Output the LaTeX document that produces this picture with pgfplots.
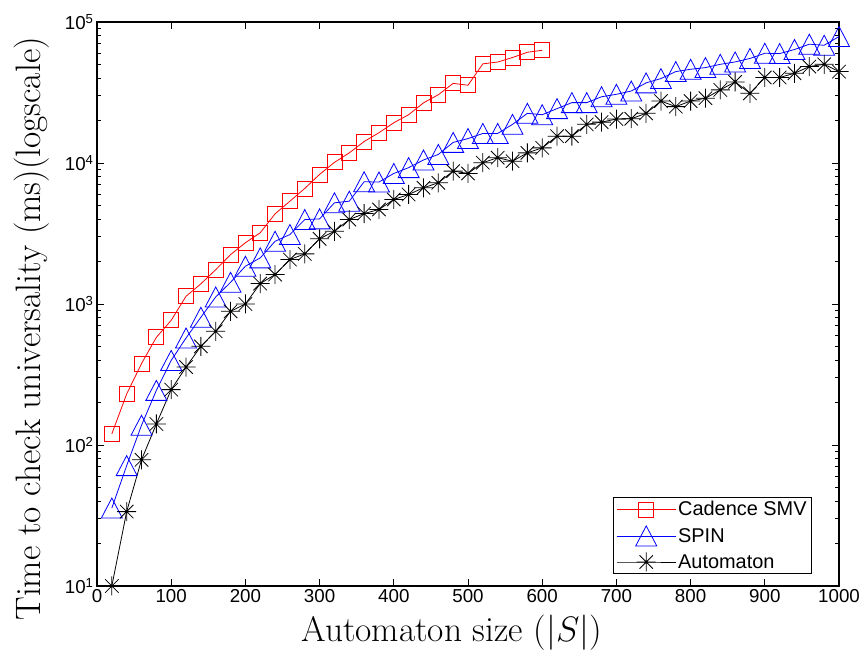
\RequirePackage{fix-cm}
\documentclass[border=0pt]{standalone}
\usepackage{fontspec}
\newfontfamily\arial{Liberation Sans}
\usepackage{pgfplots}
\pgfplotsset{compat=1.18}

\pgfdeclareplotmark{mtri}{%
  \pgfpathmoveto{\pgfqpoint{0pt}{\pgfplotmarksize}}%
  \pgfpathlineto{\pgfqpoint{1.05\pgfplotmarksize}{-\pgfplotmarksize}}%
  \pgfpathlineto{\pgfqpoint{-1.05\pgfplotmarksize}{-\pgfplotmarksize}}%
  \pgfpathclose
  \pgfusepathqstroke
}
\pgfdeclareplotmark{mstar}{%
  \pgfpathmoveto{\pgfqpoint{0pt}{\pgfplotmarksize}}\pgfpathlineto{\pgfqpoint{0pt}{-\pgfplotmarksize}}%
  \pgfpathmoveto{\pgfqpoint{\pgfplotmarksize}{0pt}}\pgfpathlineto{\pgfqpoint{-\pgfplotmarksize}{0pt}}%
  \pgfpathmoveto{\pgfqpoint{0.707\pgfplotmarksize}{0.707\pgfplotmarksize}}\pgfpathlineto{\pgfqpoint{-0.707\pgfplotmarksize}{-0.707\pgfplotmarksize}}%
  \pgfpathmoveto{\pgfqpoint{0.707\pgfplotmarksize}{-0.707\pgfplotmarksize}}\pgfpathlineto{\pgfqpoint{-0.707\pgfplotmarksize}{0.707\pgfplotmarksize}}%
  \pgfusepathqstroke
}

\begin{document}
\begin{tikzpicture}
\begin{axis}[
  name=ax,
  width=742bp, height=564bp, scale only axis,
  xmin=0, xmax=1000, ymode=log, ymin=10, ymax=100000,
  xtick={0,100,200,300,400,500,600,700,800,900,1000},
  xticklabels={0,100,200,300,400,500,600,700,800,900,1000},
  ytick={10,100,1000,10000,100000},
  yticklabels={10\textsuperscript{1},10\textsuperscript{2},10\textsuperscript{3},10\textsuperscript{4},10\textsuperscript{5}},
  ticklabel style={font=\arial\fontsize{18.8}{22}\selectfont},
  major tick length=7bp, minor tick length=4bp,
  axis line style={line width=1.2bp},
  every tick/.style={black, line width=0.7bp},
  xlabel={Automaton size ($|S|$)},
  ylabel={Time to check universality (ms)(logscale)},
  every axis x label/.style={at={(axis description cs:0.478,-0.0833)}, anchor=center},
  every axis y label/.style={at={(axis description cs:-0.0876,0.456)}, rotate=90, anchor=center},
  label style={font=\fontsize{35.5}{42}\selectfont},
  clip=false,
  legend cell align=left,
  legend style={at={(0.9636,0.0213)}, anchor=south east,
    font=\arial\fontsize{20}{24}\selectfont, draw=black, line width=0.8bp,
    row sep=6.5bp},
  legend image code/.code={\draw[mark repeat=2,mark phase=2] plot coordinates {(0bp,0bp) (29.5bp,0bp) (59bp,0bp)};},
]
\addplot[red, line width=0.8bp, mark=square, mark size=7.5bp] coordinates {
(20,120) (40,230) (60,378) (80,580) (100,766) (120,1135) (140,1390) (160,1750)
(180,2240) (200,2720) (220,3200) (240,4360) (260,5360) (280,6600) (300,8300)
(320,10100) (340,11800) (360,14200) (380,16400) (400,19300) (420,22000)
(440,26700) (460,30500) (480,36700) (500,35600) (520,50500) (540,52000)
(560,56000) (580,61000) (600,63000)
};
\addlegendentry{Cadence SMV}
\addplot[blue, line width=0.8bp, mark=mtri, mark size=10bp] coordinates {
(20,35.7) (40,71.4) (60,138) (80,244) (100,398) (120,574) (140,805) (160,1122)
(180,1425) (200,1853) (220,2123) (240,2785) (260,3110) (280,3970) (300,4015)
(320,5220) (340,5360) (360,7360) (380,7330) (400,8430) (420,9270) (440,10500)
(460,11500) (480,14000) (500,14900) (520,16200) (540,16200) (560,18800)
(580,22500) (600,22000) (620,24300) (640,26800) (660,26800) (680,29500)
(700,30700) (720,32400) (740,37000) (760,39700) (780,44500) (800,46200)
(820,47500) (840,50100) (860,52100) (880,55100) (900,60000) (920,59700)
(940,63800) (960,69600) (980,68400) (1000,78900)
};
\addlegendentry{SPIN}
\addplot[black, line width=0.8bp, mark=mstar, mark size=9.5bp] coordinates {
(20,10) (40,33.7) (60,78.5) (80,141) (100,247) (120,357) (140,501) (160,640)
(180,887) (200,1000) (220,1396) (240,1617) (260,2066) (280,2268) (300,2900)
(320,3280) (340,3970) (360,4380) (380,4680) (400,5510) (420,5980) (440,6670)
(460,7240) (480,8760) (500,8430) (520,10050) (540,10900) (560,10300)
(580,11800) (600,12800) (620,15500) (640,15500) (660,18800) (680,19500)
(700,20500) (720,20600) (740,22500) (760,27500) (780,25100) (800,27500)
(820,28800) (840,33000) (860,37600) (880,31200) (900,40400) (920,40400)
(940,43300) (960,48300) (980,50100) (1000,44500)
};
\addlegendentry{Automaton}
\end{axis}
\pgfresetboundingbox
\path ([xshift=-97bp,yshift=-76bp]ax.south west) rectangle ([xshift=26bp,yshift=22bp]ax.north east);
\end{tikzpicture}
\end{document}
